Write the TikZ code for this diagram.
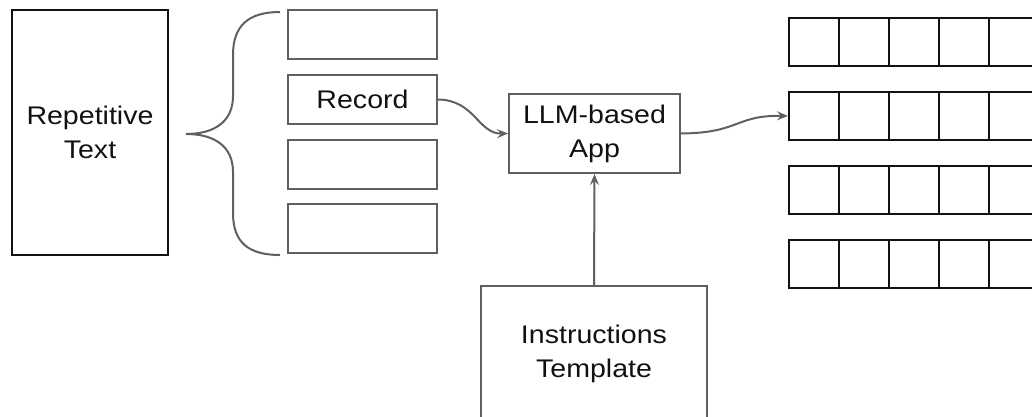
\documentclass[tikz,border=0pt]{standalone}
\usepackage{fontspec}
\setmainfont{Liberation Sans}[FakeStretch=1.12]
\usetikzlibrary{arrows.meta}
\definecolor{boxgray}{HTML}{606060}
\definecolor{ink}{HTML}{111111}
\tikzset{
  plainbox/.style={draw=boxgray, line width=2pt, rectangle, inner sep=0pt, text=ink,
                   align=center, font=\fontsize{25.5pt}{34pt}\selectfont},
  darkbox/.style={plainbox, draw=ink},
  slot/.style={plainbox, minimum width=149pt, minimum height=49pt},
  cell/.style={draw=ink, line width=2pt, rectangle, inner sep=0pt,
               minimum width=50pt, minimum height=48pt},
  flow/.style={draw=boxgray, line width=2pt,
               -{Stealth[length=11pt, width=9pt, inset=4pt]}},
  bracepath/.style={draw=boxgray, line width=2pt}
}
\begin{document}
\begin{tikzpicture}[x=1pt, y=-1pt]
\useasboundingbox (0,0) rectangle (1032,417);

% source text
\node[darkbox, minimum width=156pt, minimum height=245pt] (rep) at (90,132.5) {Repetitive\\Text};

% brace splitting the text into records
\draw[bracepath] (280,12) .. controls (248,12) and (233,26) .. (233,55)
  -- (233,96) .. controls (233,122) and (214,134) .. (186,134)
  .. controls (214,134) and (233,146) .. (233,172)
  -- (233,213) .. controls (233,242) and (248,255) .. (280,255);

% records
\node[slot] (r1) at (362.5,35) {};
\node[slot] (r2) at (362.5,99.5) {Record};
\node[slot] (r3) at (362.5,164.5) {};
\node[slot] (r4) at (362.5,228.5) {};

% application
\node[plainbox, minimum width=171pt, minimum height=79pt] (llm) at (594.5,133.5) {LLM-based\\App};

% prompt template
\node[plainbox, minimum width=226pt, minimum height=200pt] (inst) at (594,386) {};
\node[text=ink, align=center, font=\fontsize{25.5pt}{34pt}\selectfont] (instlabel) at (594,354) {Instructions\\Template};

% output table rows
\foreach \r/\y in {1/42, 2/116, 3/190, 4/264} {
  \foreach \c in {0,...,5} {
    \node[cell] (c\r\c) at ({814+50*\c},\y) {};
  }
}

% connectors
\draw[flow] (r2.east) .. controls (475,100) and (478,134) .. (llm.west);
\draw[flow] (llm.east) .. controls (740,133) and (735,115) .. (c20.west);
\draw[flow] (inst.north) -- (llm.south);
\end{tikzpicture}
\end{document}
